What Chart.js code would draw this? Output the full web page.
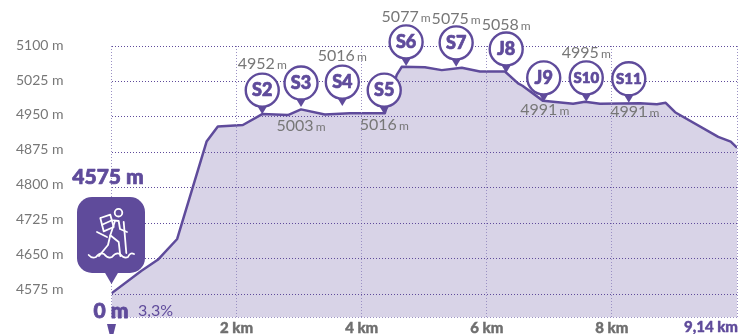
<!DOCTYPE html>
<html><head><meta charset="utf-8">
<style>html,body{margin:0;padding:0;background:#fff}canvas{display:block}</style>
<script src="https://cdn.jsdelivr.net/npm/chart.js@4/dist/chart.umd.min.js"></script>
</head><body><canvas id="c" width="743" height="334"></canvas>
<script>
const distanceKm=[0,0.48,0.74,1.05,1.52,1.70,2.10,2.41,2.82,3.03,3.41,3.81,4.37,4.56,4.64,5.01,5.28,5.60,5.89,6.29,6.50,6.57,6.90,7.38,7.57,7.81,8.45,8.72,8.86,9.01,9.70,9.90,10];
const elevation=[4577,4625,4648,4692,4898,4930,4933,4956,4954,4966,4955,4958,4958,5039,5056,5055,5049,5054,5046,5046,5021,5016,4984,4978,4982,4978,4979,4977,4980,4960,4908,4898,4885];
const yGridTicks=[4526,4575,4650,4725,4800,4875,4950,5025,5100];
const yLabelTicks=[4575,4650,4725,4800,4875,4950,5025,5100];
const xTicks=[0,2,4,6,8,10];
const xTickLabels=["","2 km","4 km","6 km","8 km","9,14 km"];
const pinNames=["S2","S3","S4","S5","S6","S7","J8","J9","S10","S11"];
const pinKm=[2.41,3.03,3.69,4.36,4.71,5.51,6.31,6.91,7.59,8.27];
const pinTipElev=[4958,4973,4975,4958,5060,5058,5045,4984,4984,4982];
const pinLabels=["4952","5003","5016","5016","5077","5075","5058","4991","4995","4991"];
const labelDy=[-49,20,-49,12,-48,-47,-47,9,-48,10];
const labelDx=[0,0,0,0,0,0,0,1,0,6];
const PURPLE="#5f4b9b",FILL="#d8d3e7",GREY="#777777",FONT="Lato, sans-serif";
const overlay={id:"overlay",afterDraw(ch){
 const c=ch.ctx,X=ch.scales.x,Y=ch.scales.y;c.save();
 const bold=(t,x,y,w)=>{c.lineWidth=w;c.strokeStyle=c.fillStyle;c.lineJoin="round";c.strokeText(t,x,y);c.fillText(t,x,y);};
 pinNames.forEach((n,i)=>{
  const x=X.getPixelForValue(pinKm[i]),t=Y.getPixelForValue(pinTipElev[i]),cy=t-23,r=16.5;
  c.fillStyle=PURPLE;c.beginPath();c.moveTo(x,t+1);c.lineTo(x-6,t-9);c.lineTo(x+6,t-9);c.closePath();c.fill();
  c.beginPath();c.arc(x,cy,r,0,Math.PI*2);c.fillStyle="#fff";c.fill();c.lineWidth=2.4;c.strokeStyle=PURPLE;c.stroke();
  c.fillStyle=PURPLE;c.textAlign="center";c.textBaseline="middle";
  c.font=(n.length>2?"900 15px ":"900 18px ")+FONT;bold(n,x,cy+0.5,0.7);
  const lx=x+labelDx[i],ly=t+labelDy[i];
  c.fillStyle=GREY;c.textAlign="left";
  c.font="16px "+FONT;const a=pinLabels[i]+" ";const wa=c.measureText(a).width-2;
  c.font="12px "+FONT;const wb=c.measureText("m").width;
  const sx=lx-(wa+wb)/2;
  c.font="16px "+FONT;c.fillText(a,sx,ly);
  c.font="12px "+FONT;c.fillText("m",sx+wa,ly+1);
 });
 const sx=X.getPixelForValue(0),bx=sx-34.5,by=197,bw=68,bh=76;
 c.fillStyle=PURPLE;c.beginPath();c.roundRect(bx,by,bw,bh,15);c.fill();
 c.beginPath();c.moveTo(sx-7,272);c.lineTo(sx+7,272);c.lineTo(sx,284);c.closePath();c.fill();
 c.strokeStyle="#fff";c.lineWidth=1.8;c.lineJoin="round";c.lineCap="round";
 const pl=a=>{c.beginPath();a.forEach((p,i)=>i?c.lineTo(p[0],p[1]):c.moveTo(p[0],p[1]));c.stroke();};
 c.beginPath();c.arc(118.5,212.7,3.8,0,Math.PI*2);c.stroke();
 pl([[100.3,218],[110.3,214.7],[113.7,227],[103.7,231.3],[100.3,218]]);
 pl([[102,224.7],[112,220.3]]);pl([[97,232],[107,237]]);
 pl([[113.7,220.3],[118.7,221],[120,229],[127,232]]);
 pl([[115,221],[110.3,235.3],[118.7,242],[120.3,256]]);
 pl([[110.3,235.3],[108,245],[99,256]]);
 pl([[123.7,222],[126.3,253]]);
 c.beginPath();c.moveTo(88.7,255);[[96,257],[104,254],[112,257],[120,254],[128,257],[134,254]].forEach((p,i)=>{c.quadraticCurveTo(p[0]-4,p[1]+(i%2?-2:2),p[0],p[1]);});c.stroke();
 c.fillStyle=PURPLE;c.textBaseline="middle";
 c.textAlign="center";c.font="900 21px "+FONT;bold("4575 m",108,177,0.7);
 c.font="900 21px "+FONT;bold("0 m",111,311,0.8);
 c.textAlign="left";c.font="16px "+FONT;c.fillText("3,3%",138,311);
 c.textAlign="right";c.font="900 15px "+FONT;bold(xTickLabels[5],738,327,0.4);
 c.beginPath();c.moveTo(sx-4.5,324);c.lineTo(sx+4.5,324);c.lineTo(sx+2,334);c.lineTo(sx-2,334);c.closePath();c.fill();
 c.restore();
}};
new Chart(document.getElementById("c"),{
 type:"line",plugins:[overlay],
 data:{datasets:[{data:distanceKm.map((k,i)=>({x:k,y:elevation[i]})),yAxisID:"y",borderColor:PURPLE,borderWidth:2.5,backgroundColor:FILL,fill:"start",pointRadius:0,tension:0,borderJoinStyle:"round"}]},
 options:{responsive:false,animation:false,
  layout:{padding:{top:46,right:6,left:0,bottom:0}},
  plugins:{legend:{display:false},tooltip:{enabled:false}},
  scales:{
   x:{type:"linear",min:0,max:10,
    afterBuildTicks(s){s.ticks=xTicks.map(v=>({value:v}));},
    afterFit(s){s.height=16.5;s.paddingLeft=0;s.paddingRight=0;},
    grid:{drawTicks:false,color:"#9b91c4",z:1},
    border:{display:false,dash:[1,2]},
    ticks:{autoSkip:false,maxRotation:0,padding:2,callback:v=>v===10?"":xTickLabels[xTicks.indexOf(v)],color:"#6f6f6f",textStrokeColor:"#6f6f6f",textStrokeWidth:0.4,font:{family:FONT,weight:"900",size:15}}
   },
   y:{min:4526,max:5100,position:"left",
    afterBuildTicks(s){s.ticks=yGridTicks.map(v=>({value:v}));},
    afterFit(s){s.width=0;s.paddingTop=0;s.paddingBottom=0;},
    grid:{drawTicks:false,color:c=>c.index===0?"#9b91c4":PURPLE,z:1},
    border:{display:false,dash:[1,2]},
    ticks:{display:false}
   },
   yLabels:{min:4515,max:5098,position:"left",
    afterBuildTicks(s){s.ticks=yLabelTicks.map(v=>({value:v}));},
    afterFit(s){s.width=111.5;s.paddingTop=0;s.paddingBottom=0;},
    grid:{display:false,drawTicks:false},
    border:{display:false},
    ticks:{padding:48,callback:v=>v+" m",color:GREY,font:{family:FONT,size:14}}
   }
  }
 }
});
</script></body></html>
